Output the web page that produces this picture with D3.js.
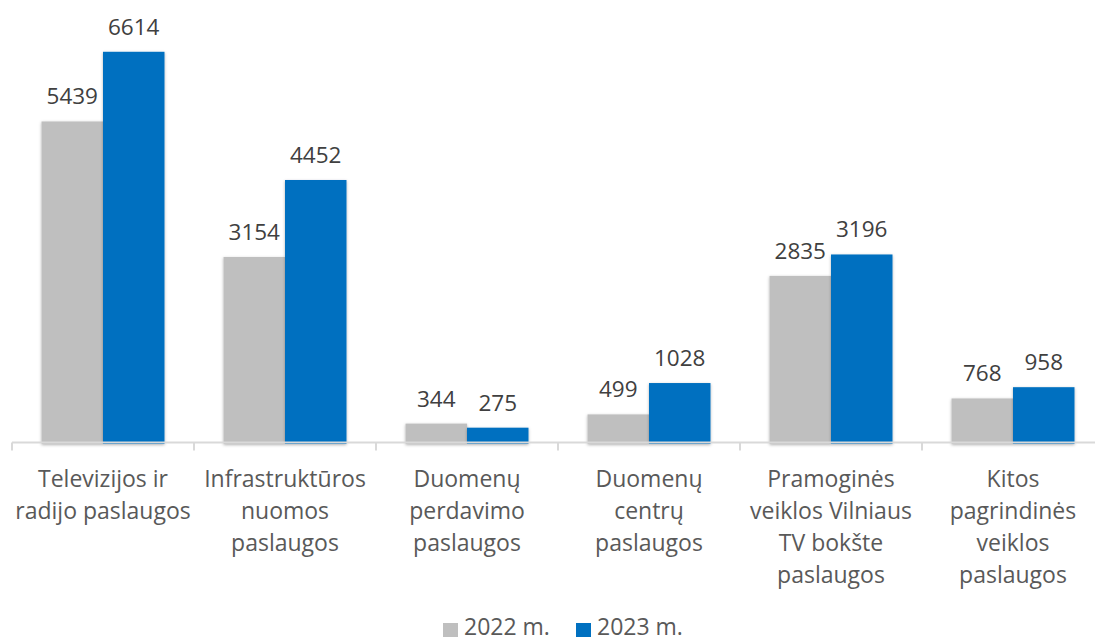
<!DOCTYPE html>
<html>
<head>
<meta charset="utf-8">
<script src="https://cdn.jsdelivr.net/npm/d3@7"></script>
<style>
  body { margin: 0; background: #fff; }
  svg { display: block; font-family: "Open Sans", sans-serif; }
</style>
</head>
<body>
<svg id="chart" width="1095" height="642"></svg>
<script>
// category labels, line breaks as in the original
var categories = [
  "Televizijos ir\nradijo paslaugos",
  "Infrastruktūros\nnuomos\npaslaugos",
  "Duomenų\nperdavimo\npaslaugos",
  "Duomenų\ncentrų\npaslaugos",
  "Pramoginės\nveiklos Vilniaus\nTV bokšte\npaslaugos",
  "Kitos\npagrindinės\nveiklos\npaslaugos"
];
var years = ["2022 m.", "2023 m."];
var values2022 = [5439, 3154, 344, 499, 2835, 768];
var values2023 = [6614, 4452, 275, 1028, 3196, 958];
var colors = ["#bfbfbf", "#0070c0"];

var svg = d3.select("#chart");
var zeroY = 444;

var x0 = d3.scaleBand()
    .domain(categories)
    .range([12, 1104])
    .padding(0);

var x1 = d3.scaleBand()
    .domain(years)
    .range([0, x0.bandwidth()])
    .paddingInner(0)
    .paddingOuter(0.48);

var y = d3.scaleLinear()
    .domain([0, 7000])
    .range([zeroY, zeroY - 7000 * 0.0593]);

var defs = svg.append("defs");
var f = defs.append("filter").attr("id", "shadow")
    .attr("x", "-20%").attr("y", "-20%").attr("width", "140%").attr("height", "140%");
f.append("feDropShadow")
    .attr("dx", 0).attr("dy", 1)
    .attr("stdDeviation", 1.6)
    .attr("flood-color", "#000")
    .attr("flood-opacity", 0.3);

var rows = categories.map(function(c, i) {
  return { cat: c, vals: [values2022[i], values2023[i]] };
});

var groups = svg.append("g").selectAll("g")
  .data(rows)
  .enter()
  .append("g")
    .attr("transform", function(d) { return "translate(" + x0(d.cat) + ",0)"; });

groups.selectAll("rect")
  .data(function(d) { return d.vals.map(function(v, j) { return { year: years[j], v: v, j: j }; }); })
  .enter()
  .append("rect")
    .attr("x", function(d) { return x1(d.year); })
    .attr("y", function(d) { return y(d.v); })
    .attr("width", x1.bandwidth())
    .attr("height", function(d) { return zeroY - y(d.v); })
    .attr("fill", function(d) { return colors[d.j]; })
    .attr("filter", "url(#shadow)");

groups.selectAll("text.val")
  .data(function(d) { return d.vals.map(function(v, j) { return { year: years[j], v: v }; }); })
  .enter()
  .append("text")
    .attr("class", "val")
    .attr("x", function(d) { return x1(d.year) + x1.bandwidth() / 2; })
    .attr("y", function(d) { return y(d.v) - 17; })
    .attr("text-anchor", "middle")
    .style("font-size", "22.5px")
    .style("fill", "#404040")
    .text(function(d) { return d.v; });

// x axis
var axis = svg.append("g").attr("transform", "translate(0," + (zeroY - 1.5) + ")");
axis.append("line")
    .attr("x1", 12).attr("x2", 1095)
    .attr("y1", 0).attr("y2", 0)
    .attr("stroke", "#d9d9d9").attr("stroke-width", 2);

axis.selectAll("line.tick")
  .data(categories)
  .enter()
  .append("line")
    .attr("class", "tick")
    .attr("x1", function(d) { return x0(d); })
    .attr("x2", function(d) { return x0(d); })
    .attr("y1", 0).attr("y2", 8)
    .attr("stroke", "#d9d9d9").attr("stroke-width", 2);

axis.selectAll("text.cat")
  .data(categories)
  .enter()
  .append("text")
    .attr("class", "cat")
    .attr("text-anchor", "middle")
    .style("font-size", "23px")
    .style("fill", "#595959")
    .each(function(d) {
      var t = d3.select(this);
      d.split("\n").forEach(function(line, i) {
        t.append("tspan")
          .attr("x", x0(d) + x0.bandwidth() / 2)
          .attr("y", 44 + i * 32)
          .text(line);
      });
    });

// legend
var legend = svg.append("g");
var legendX = [443, 576];
years.forEach(function(yr, i) {
  legend.append("rect")
    .attr("x", legendX[i]).attr("y", 623)
    .attr("width", 15).attr("height", 14)
    .attr("fill", colors[i]);
  legend.append("text")
    .attr("x", legendX[i] + 21).attr("y", 635)
    .style("font-size", "23px")
    .style("fill", "#595959")
    .text(yr);
});
</script>
</body>
</html>
